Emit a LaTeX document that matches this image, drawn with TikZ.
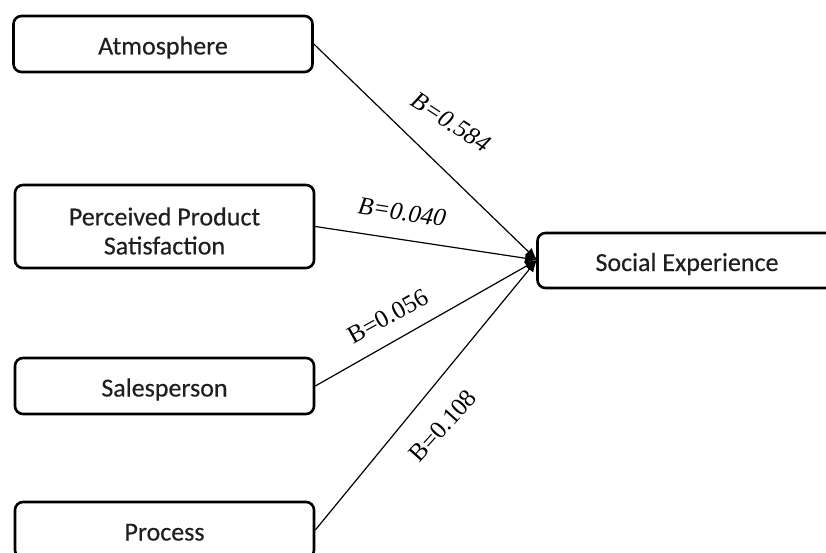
\documentclass[tikz,border=0pt]{standalone}
\usepackage{fontspec}
\setmainfont{Carlito}[FakeBold=0.3]
\newfontfamily\labelfont{Liberation Serif}
\usetikzlibrary{arrows.meta}
\begin{document}
\begin{tikzpicture}[x=1pt,y=-1pt,
  factor/.style={draw, line width=2.6pt, rounded corners=8pt, fill=white,
    minimum width=299pt, align=center, font=\fontsize{26}{29}\selectfont,
    text=black!88, inner sep=0pt},
  oneline/.style={factor, text height=26pt, text depth=5pt},
  link/.style={line width=1.2pt, -{Latex[length=12pt,width=10pt]}},
  coef/.style={font=\labelfont\fontsize{25}{28}\selectfont, inner sep=1pt}]
  \useasboundingbox (0,0) rectangle (826,553);
  \clip (0,0) rectangle (826,553);

  % predictor boxes
  \node[oneline, minimum height=56pt] (atm) at (163,44) {Atmosphere};
  \node[factor, minimum height=83pt] (pps) at (164.5,226.5)
    {\rule{0pt}{27pt}Perceived Product\\Satisfaction};
  \node[oneline, minimum height=56pt] (sal) at (164.5,386) {Salesperson};
  \node[oneline, minimum height=56pt] (pro) at (164.5,530) {Process};

  % outcome box
  \node[oneline, minimum height=55pt] (soc) at (687,260.5) {Social Experience};

  % shared arrow target on the outcome box
  \coordinate (hub) at (537,260);

  % paths with coefficients
  \draw[link] (atm.east) -- (hub);
  \draw[link] (pps.east) -- (hub);
  \draw[link] (sal.east) -- (hub);
  \draw[link] (pro.east) -- (hub);

  \node[coef, rotate=-33] (c1) at (451,122) {\textit{B=0.584}};
  \node[coef, rotate=-9] (c2) at (402,212) {\textit{B=0.040}};
  \node[coef, rotate=29] (c3) at (388,316) {B=0.056};
  \node[coef, rotate=48] (c4) at (443,426) {B=0.108};
\end{tikzpicture}
\end{document}
